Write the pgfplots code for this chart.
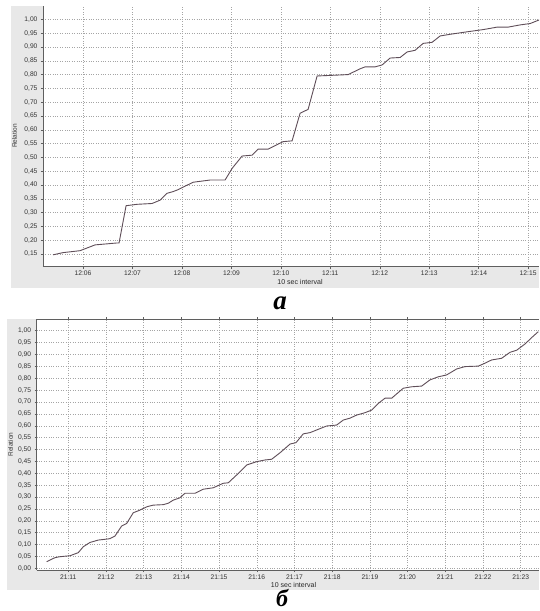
\documentclass[border=0pt]{standalone}
\usepackage{fontspec}
\setmainfont{Liberation Sans}
\newfontfamily\capfont{Liberation Serif}
\usepackage{pgfplots}
\pgfplotsset{compat=1.18}
\definecolor{panel}{RGB}{232,232,232}
\definecolor{curve}{RGB}{95,78,88}
\definecolor{axln}{RGB}{95,95,95}
\definecolor{gridc}{RGB}{165,165,165}
\pgfplotsset{mystyle/.style={
  scale only axis, anchor=south west,
  axis background/.style={fill=white},
  tick align=outside, major tick length=2pt,
  axis line style={axln, line width=0.9pt, -},
  tick style={axln, line width=0.5pt},
  grid=major, grid style={gridc, dotted, line width=0.5pt},
  tick label style={font=\fontsize{6.7}{7}\selectfont, text=black!80},
  xticklabel style={yshift=1pt},
  yticklabel style={/pgf/number format/.cd, fixed, fixed zerofill, precision=2, use comma, assume math mode=true},
}}
\begin{document}
\begin{tikzpicture}
\useasboundingbox (0,0) rectangle (539pt,611pt);
\fill[panel] (11pt,323pt) rectangle (539pt,605pt);
\fill[panel] (7pt,21pt) rectangle (539pt,292pt);
% top chart (a)
\begin{axis}[mystyle,
  at={(43pt,344.3pt)}, width=496pt, height=260.7pt,
  axis x line*=bottom, axis y line*=left,
  xmin=5.19, xmax=15.22, ymin=0.104, ymax=1.0485,
  xtick={6,7,8,9,10,11,12,13,14,15},
  xticklabels={12:06,12:07,12:08,12:09,12:10,12:11,12:12,12:13,12:14,12:15},
  ytick={0.15,0.20,0.25,0.30,0.35,0.40,0.45,0.50,0.55,0.60,0.65,0.70,0.75,0.80,0.85,0.90,0.95,1.00},
]
\addplot[curve, line width=0.9pt, no marks] coordinates {
(5.393,0.147) (5.595,0.155) (5.939,0.162) (6.243,0.183) (6.688,0.190) (6.728,0.190)
(6.870,0.325) (7.092,0.330) (7.396,0.333) (7.557,0.345) (7.699,0.370) (7.820,0.376)
(7.92,0.383) (8.225,0.410) (8.569,0.418) (8.872,0.418) (9.014,0.460) (9.216,0.505)
(9.418,0.508) (9.540,0.530) (9.742,0.530) (10.045,0.557) (10.227,0.560) (10.389,0.660)
(10.551,0.674) (10.733,0.795) (10.996,0.797) (11.360,0.800) (11.603,0.821) (11.704,0.828)
(11.906,0.828) (12.048,0.835) (12.210,0.860) (12.412,0.862) (12.553,0.882) (12.715,0.888)
(12.877,0.913) (13.059,0.917) (13.221,0.940) (13.423,0.946) (13.767,0.955) (14.091,0.963)
(14.374,0.972) (14.596,0.972) (14.839,0.980) (15.041,0.985) (15.223,0.998)
};
\end{axis}
% bottom chart (b)
\begin{axis}[mystyle,
  at={(36.7pt,41pt)}, width=502.3pt, height=250.7pt,
  axis x line=box, axis y line*=left,
  xmin=10.162, xmax=23.486, ymin=-0.007, ymax=1.048,
  xtick={11,12,13,14,15,16,17,18,19,20,21,22,23},
  xticklabels={21:11,21:12,21:13,21:14,21:15,21:16,21:17,21:18,21:19,21:20,21:21,21:22,21:23},
  ytick={0,0.05,0.10,0.15,0.20,0.25,0.30,0.35,0.40,0.45,0.50,0.55,0.60,0.65,0.70,0.75,0.80,0.85,0.90,0.95,1.00},
]
\addplot[curve, line width=0.9pt, no marks] coordinates {
(10.427,0.028) (10.647,0.045) (10.780,0.049) (11.045,0.053) (11.265,0.066) (11.398,0.091)
(11.576,0.109) (11.796,0.119) (12.019,0.123) (12.106,0.125) (12.239,0.136) (12.416,0.178)
(12.549,0.189) (12.724,0.234) (12.902,0.245) (13.080,0.259) (13.255,0.266) (13.520,0.268)
(13.653,0.274) (13.785,0.287) (13.963,0.297) (14.095,0.316) (14.361,0.316) (14.581,0.333)
(14.846,0.339) (15.111,0.358) (15.244,0.360) (15.467,0.393) (15.732,0.435) (15.997,0.449)
(16.218,0.456) (16.395,0.459) (16.629,0.488) (16.883,0.523) (17.040,0.529) (17.233,0.566)
(17.411,0.571) (17.631,0.585) (17.854,0.599) (18.119,0.603) (18.294,0.624) (18.472,0.632)
(18.650,0.645) (18.870,0.655) (19.048,0.666) (19.223,0.694) (19.401,0.716) (19.578,0.716)
(19.886,0.758) (20.109,0.764) (20.374,0.767) (20.594,0.793) (20.814,0.806) (21.037,0.814)
(21.302,0.839) (21.523,0.849) (21.875,0.851) (22.008,0.860) (22.231,0.877) (22.496,0.884)
(22.716,0.909) (22.894,0.918) (23.114,0.944) (23.292,0.971) (23.467,0.996)
};
\end{axis}
% labels
\node[rotate=90, font=\fontsize{6.5}{7}\selectfont, text=black!80] at (14.5pt,475pt) {Relation};
\node[rotate=90, font=\fontsize{6.5}{7}\selectfont, text=black!80] at (10.5pt,166.4pt) {Relation};
\node[font=\fontsize{7}{8}\selectfont, text=black!85, inner sep=0pt] at (300pt,328.5pt) {10 sec interval};
\node[font=\fontsize{7}{8}\selectfont, text=black!85, inner sep=0pt] at (293.5pt,26pt) {10 sec interval};
\node[anchor=base, inner sep=0pt, font=\capfont\bfseries\itshape\fontsize{27}{27}\selectfont] at (280pt,301.7pt) {а};
\node[anchor=base, inner sep=0pt, font=\capfont\bfseries\itshape\fontsize{24}{24}\selectfont] at (282pt,5pt) {б};
\end{tikzpicture}
\end{document}
